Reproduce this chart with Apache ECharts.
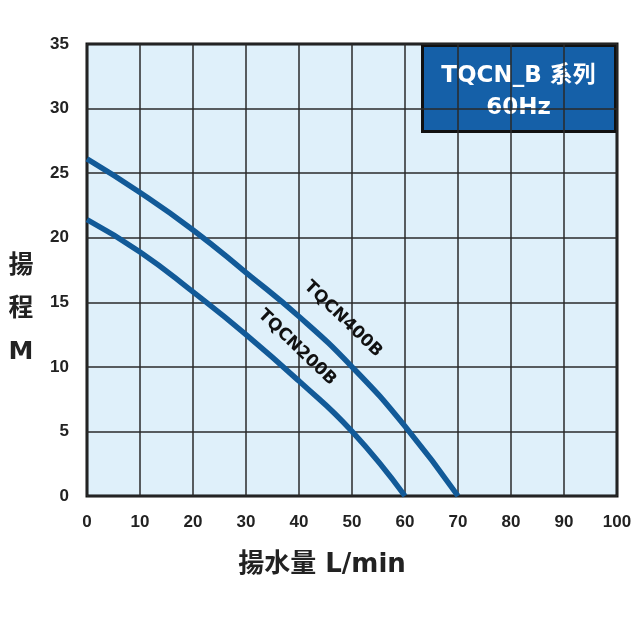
<!DOCTYPE html>
<html>
<head>
<meta charset="utf-8">
<script src="https://cdn.jsdelivr.net/npm/echarts@6/dist/echarts.min.js"></script>
<style>
  html, body { margin: 0; padding: 0; background: #fff; }
  #chart { width: 640px; height: 640px; }
</style>
</head>
<body>
<div id="chart"></div>
<script>
// flow L/min -> head M
var flow400 = [0, 10, 20, 30, 40, 50, 60, 70];
var head400 = [26.1, 23.5, 20.6, 17.3, 13.9, 10.0, 5.4, 0];
var flow200 = [0, 10, 20, 30, 40, 50, 60];
var head200 = [21.4, 18.9, 15.8, 12.5, 8.9, 5.0, 0];

var seriesNames = ["TQCN400B", "TQCN200B"];
var titleLines = ["TQCN_B 系列", "60Hz"];
var xName = "揚水量 L/min";
var yName = ["揚", "程", "M"];

var lineColor = "#125a98";
var font = "'DejaVu Sans', 'Noto Sans CJK TC', sans-serif";
var tickFont = "'Liberation Sans', Arial, sans-serif";

function pairs(xs, ys) {
  return xs.map(function (x, i) { return [x, ys[i]]; });
}

function curveLabel(name, coord) {
  return {
    symbol: "circle",
    symbolSize: 0,
    data: [{ coord: coord }],
    label: {
      show: true,
      position: "inside",
      formatter: name,
      rotate: -44,
      color: "#111",
      fontSize: 17,
      fontWeight: "bold",
      fontFamily: font
    }
  };
}

var chart = echarts.init(document.getElementById("chart"));
chart.setOption({
  animation: false,
  grid: {
    left: 87,
    right: 23,
    top: 44,
    bottom: 144,
    show: true,
    backgroundColor: "#dff0fa",
    borderColor: "#111",
    borderWidth: 3
  },
  xAxis: {
    type: "value",
    min: 0,
    max: 100,
    interval: 10,
    axisLine: { show: false },
    axisTick: { show: false },
    axisLabel: { color: "#222", fontSize: 17, fontWeight: "bold", fontFamily: tickFont, margin: 18 },
    splitLine: { show: true, lineStyle: { color: "#2a2a2a", width: 1.5 } }
  },
  yAxis: {
    type: "value",
    min: 0,
    max: 35,
    interval: 5,
    axisLine: { show: false },
    axisTick: { show: false },
    axisLabel: { color: "#222", fontSize: 17, fontWeight: "bold", fontFamily: tickFont, margin: 18 },
    splitLine: { show: true, lineStyle: { color: "#2a2a2a", width: 1.5 } }
  },
  series: [
    {
      name: seriesNames[0],
      type: "line",
      smooth: true,
      symbol: "none",
      data: pairs(flow400, head400),
      lineStyle: { color: lineColor, width: 5.5 },
      markPoint: curveLabel(seriesNames[0], [48.3, 13.7])
    },
    {
      name: seriesNames[1],
      type: "line",
      smooth: true,
      symbol: "none",
      data: pairs(flow200, head200),
      lineStyle: { color: lineColor, width: 5.5 },
      markPoint: curveLabel(seriesNames[1], [39.6, 11.5])
    }
  ],
  graphic: [
    {
      type: "group",
      right: 23,
      top: 44,
      children: [
        {
          type: "rect",
          shape: { x: 0, y: 0, width: 193, height: 86 },
          style: { fill: "#1560a8", stroke: "#111", lineWidth: 3 }
        },
        {
          type: "text",
          x: 96,
          y: 31,
          style: {
            text: titleLines[0],
            fill: "#fff",
            font: "bold 23px " + font,
            align: "center",
            verticalAlign: "middle"
          }
        },
        {
          type: "text",
          x: 96,
          y: 63,
          style: {
            text: titleLines[1],
            fill: "#fff",
            font: "bold 23px " + font,
            align: "center",
            verticalAlign: "middle"
          }
        }
      ]
    },
    {
      type: "text",
      x: 21,
      y: 245,
      style: {
        text: yName[0] + "\n" + yName[1] + "\n" + yName[2],
        fill: "#222",
        font: "bold 25px " + font,
        lineHeight: 43,
        align: "center"
      }
    },
    {
      type: "text",
      x: 322,
      y: 565,
      style: {
        text: xName,
        fill: "#222",
        font: "bold 26px " + font,
        align: "center",
        verticalAlign: "middle"
      }
    }
  ]
});
</script>
</body>
</html>
